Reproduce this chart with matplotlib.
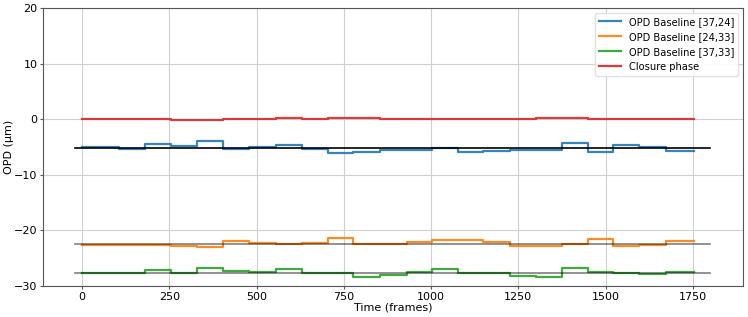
import matplotlib
matplotlib.use("Agg")
import matplotlib.pyplot as plt

# Segment boundaries (frames)
edges = [0, 105, 180, 255, 330, 404, 478, 555, 631, 705, 777, 854, 930,
         1002, 1076, 1150, 1226, 1300, 1374, 1449, 1522, 1597, 1672, 1753]

blue = [-5.07, -5.3, -4.5, -4.9, -4.0, -5.3, -4.95, -4.6, -5.3, -6.1, -5.85, -5.55,
        -5.5, -5.25, -5.85, -5.65, -5.55, -5.55, -4.2, -5.9, -4.6, -5.0, -5.65, -5.65]
orange = [-22.55, -22.55, -22.6, -22.75, -22.9, -21.85, -22.27, -22.5, -22.2, -21.3,
          -22.5, -22.5, -22.0, -21.7, -21.7, -22.0, -22.75, -22.75, -22.5, -21.6,
          -22.8, -22.65, -21.85, -21.85]
green = [-27.7, -27.7, -27.1, -27.7, -26.8, -27.25, -27.55, -27.0, -27.7, -27.7,
         -28.3, -28.0, -27.45, -27.0, -27.7, -27.75, -28.15, -28.3, -26.8, -27.45,
         -27.6, -27.9, -27.5, -27.5]
red = [0.0, 0.0, 0.0, -0.1, -0.1, 0.1, 0.1, 0.2, 0.0, 0.15, 0.15, 0.0, 0.1,
       0.1, 0.05, 0.0, 0.05, 0.15, 0.2, 0.0, 0.05, 0.1, 0.05, 0.05]

ref_x = [-20, 1800]
ref_blue = -5.2
ref_orange = -22.45
ref_green = -27.6

labels = ["OPD Baseline [37,24]", "OPD Baseline [24,33]", "OPD Baseline [37,33]", "Closure phase"]
colors = ["#1f77b4", "#ff7f0e", "#2ca02c", "#d62728"]

fig = plt.figure(figsize=(7.48, 3.17), dpi=100)
ax = fig.add_axes([0.0575, 0.0978, 0.9358, 0.8772])

for vals, lab, c in zip([blue, orange, green, red], labels, colors):
    ax.plot(edges, vals, drawstyle="steps-post", color=c, lw=1.6, label=lab, alpha=0.9)

ax.plot(ref_x, [ref_blue, ref_blue], color="black", lw=1.2)
ax.plot(ref_x, [ref_orange, ref_orange], color="black", lw=1.2, alpha=0.5)
ax.plot(ref_x, [ref_green, ref_green], color="black", lw=1.2, alpha=0.5)

ax.set_xlim(-112, 1894)
ax.set_ylim(-30, 20)
ax.set_xticks([0, 250, 500, 750, 1000, 1250, 1500, 1750])
ax.set_yticks([-30, -20, -10, 0, 10, 20])
ax.grid(True, color="#d0d0d0", lw=0.8)
ax.tick_params(labelsize=8, length=2.5, color="#555555", pad=1.5)
for s in ax.spines.values():
    s.set_color("#555555")
    s.set_linewidth(0.8)
ax.set_xlabel("Time (frames)", fontsize=8, labelpad=0.5)
ax.set_ylabel("OPD (µm)", fontsize=8)
ax.yaxis.set_label_coords(-0.042, 0.5)
ax.legend(loc="upper right", fontsize=7.1, framealpha=0.9, edgecolor="#dddddd",
          handlelength=2.2)

fig.savefig("out.png", dpi=100)
